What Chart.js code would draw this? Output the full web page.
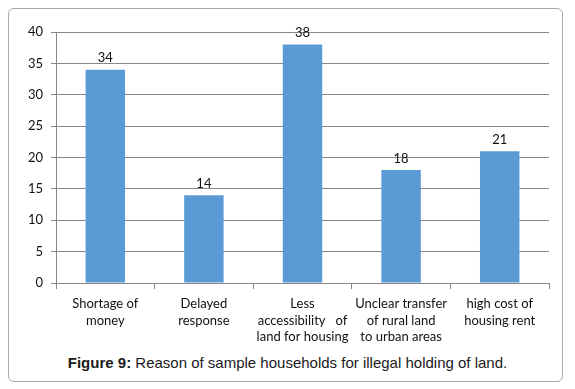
<!DOCTYPE html>
<html>
<head>
<meta charset="utf-8">
<script src="https://cdn.jsdelivr.net/npm/chart.js@4/dist/chart.umd.min.js"></script>
<style>
  html, body { margin: 0; padding: 0; background: #fff; }
  body { width: 575px; height: 389px; position: relative; overflow: hidden; }
  .frame {
    position: absolute; left: 8px; top: 8px; width: 553px; height: 372px;
    border: 1px solid #a8a8a8; border-radius: 6px;
  }
  .chartbox { position: absolute; left: 10px; top: 10px; width: 553px; height: 340px; }
  .caption {
    position: absolute; left: 0; width: 575px; top: 354px; text-align: center;
    font-family: "Liberation Sans", Arial, sans-serif; font-size: 15px; color: #1a1a1a;
  }
</style>
</head>
<body>
<div class="frame"></div>
<div class="chartbox"><canvas id="reasonChart"></canvas></div>
<div class="caption"><b>Figure 9:</b> Reason of sample households for illegal holding of land.</div>
<script>
const categories = [
  ['Shortage of', 'money'],
  ['Delayed', 'response'],
  ['Less', 'accessibility   of', 'land for housing'],
  ['Unclear transfer', 'of rural land', 'to urban areas'],
  ['high cost of', 'housing rent']
];
const households = [34, 14, 38, 18, 21];
const yTicks = [0, 5, 10, 15, 20, 25, 30, 35, 40];

const gridColor = '#878787';
const labelFont = { family: 'Lato, "Open Sans", sans-serif', size: 13, lineHeight: 1.3 };

// writes the value above each bar
const valueLabels = {
  id: 'valueLabels',
  afterDatasetsDraw(chart) {
    const ctx = chart.ctx;
    ctx.save();
    ctx.font = '13px Lato, "Open Sans", sans-serif';
    ctx.fillStyle = '#111';
    ctx.textAlign = 'center';
    ctx.textBaseline = 'bottom';
    chart.getDatasetMeta(0).data.forEach((bar, i) => {
      ctx.fillText(households[i], bar.x, bar.y - 5);
    });
    ctx.restore();
  }
};

new Chart(document.getElementById('reasonChart'), {
  type: 'bar',
  data: {
    labels: categories,
    datasets: [{
      data: households,
      backgroundColor: '#5b9bd5',
      borderWidth: 0,
      categoryPercentage: 1,
      barPercentage: 0.4
    }]
  },
  options: {
    responsive: true,
    maintainAspectRatio: false,
    animation: false,
    events: [],
    layout: { padding: { left: 0, top: 22, right: 14, bottom: 0 } },
    plugins: { legend: { display: false }, tooltip: { enabled: false } },
    scales: {
      y: {
        min: 0,
        max: 40,
        afterBuildTicks: scale => { scale.ticks = yTicks.map(v => ({ value: v })); },
        afterFit: scale => { scale.width = 46; },
        border: { color: gridColor },
        grid: { color: gridColor, tickLength: 5 },
        ticks: { color: '#111', font: labelFont, padding: 8 }
      },
      x: {
        afterFit: scale => { scale.height = 67; },
        border: { color: gridColor },
        grid: { color: gridColor, offset: true, drawOnChartArea: false, tickLength: 6 },
        ticks: { color: '#111', font: labelFont, padding: 6, maxRotation: 0, autoSkip: false }
      }
    }
  },
  plugins: [valueLabels]
});
</script>
</body>
</html>
